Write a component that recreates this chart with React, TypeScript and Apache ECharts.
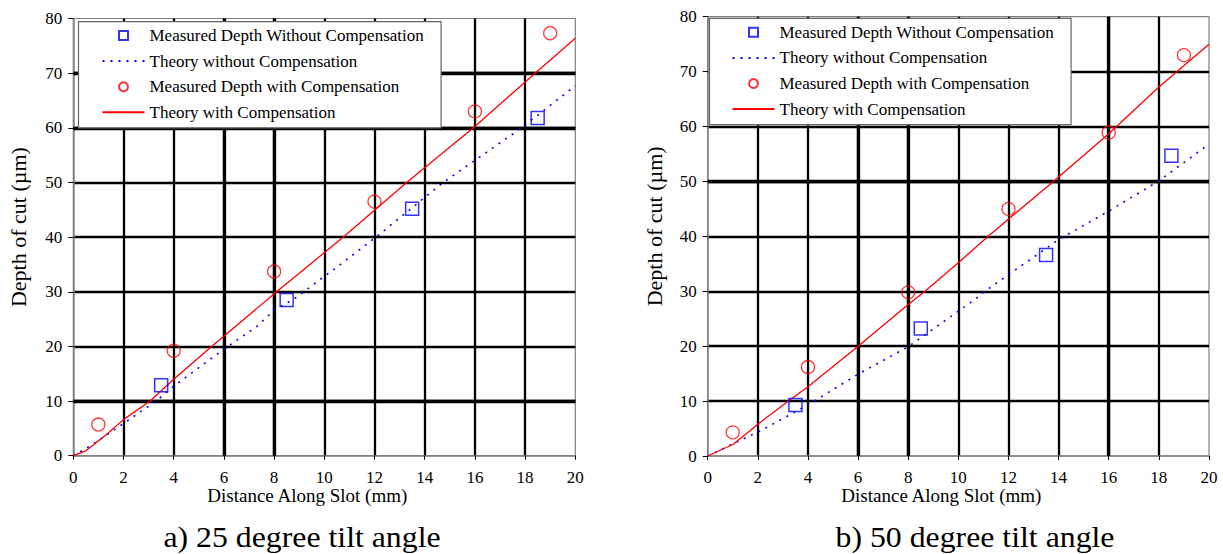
import React, { useEffect, useRef } from "react";
import * as echarts from "echarts";

// ---- Data ----
const seriesNames = [
  "Measured Depth Without Compensation",
  "Theory without Compensation",
  "Measured Depth with Compensation",
  "Theory with Compensation",
];

// a) 25 degree tilt angle
const measuredWithout25: number[][] = [[3.5, 12.9], [8.5, 28.5], [13.5, 45.2], [18.5, 61.8]];
const measuredWith25: number[][] = [[1, 5.7], [4, 19.2], [8, 33.7], [12, 46.5], [16, 63], [19, 77.3]];
const theoryWithout25: number[][] = [
  [0, 0], [0.5, 1.3], [1.5, 4.3], [2, 5.9], [3.3, 10], [4, 12.7], [6, 19.5], [7.3, 23.6],
  [8, 26.6], [8.8, 28.7], [10.5, 34.5], [12.06, 40], [14.74, 50], [17.86, 60], [20, 67.7],
];
const theoryWith25: number[][] = [
  [0, 0], [0.5, 0.9], [1.3, 3.8], [2, 6.6], [3.06, 10], [4, 14], [5.51, 20], [8.1, 30],
  [10.76, 40], [13.28, 50], [15.94, 60], [18.4, 70], [20, 76.4],
];

// b) 50 degree tilt angle
const measuredWithout50: number[][] = [[3.5, 9.3], [8.5, 23.2], [13.5, 36.6], [18.5, 54.7]];
const measuredWith50: number[][] = [[1, 4.3], [4, 16.2], [8, 29.8], [12, 45], [16, 58.9], [19, 73]];
const theoryWithout50: number[][] = [
  [0, 0], [1, 2.2], [2.15, 4.7], [4, 9.3], [6, 14.9], [8, 19.9], [8.8, 22.5], [10.66, 28.5],
  [11.06, 30], [14, 39.4], [16, 44.6], [18, 50.1], [20, 56.8],
];
const theoryWith50: number[][] = [
  [0, 0], [1, 2.1], [1.6, 4.3], [2, 5.8], [3.22, 10], [4, 12.6], [6, 20], [8, 27.6],
  [8.67, 30], [10, 35.2], [11.19, 40], [13.79, 50], [16, 58.7], [18, 67.2], [20, 75],
];

// heavier grid lines seen in the reference
const heavyX25 = [6, 8];
const heavyY25 = [10, 60, 70];
const heavyX50 = [6, 8, 16];
const heavyY50 = [50];

const xAxisTitle = "Distance Along Slot (mm)";
const yAxisTitle = "Depth of cut (µm)";
const captions = ["a) 25 degree tilt angle", "b) 50 degree tilt angle"];

const FONT = "Liberation Serif, Times New Roman, Times, serif";
const BLUE = "#0000ff";
const RED = "#ff0000";
const SQUARE_ICON = "path://M0 0H10V10H0Z";

function makeAxes(gridIndex: number, yNameGap: number) {
  const x = {
    type: "value",
    gridIndex,
    min: 0,
    max: 20,
    interval: 2,
    axisLine: { show: true, lineStyle: { color: "#808080", width: 1.5 } },
    axisTick: { show: true, length: 4, lineStyle: { color: "#000", width: 1 } },
    axisLabel: { fontFamily: FONT, fontSize: 17, color: "#000", margin: 13 },
    splitLine: { show: true, showMinLine: false, showMaxLine: false, lineStyle: { color: "#000", width: 2.3 } },
    name: xAxisTitle,
    nameLocation: "middle",
    nameGap: 30,
    nameMoveOverlap: false,
    nameTextStyle: { fontFamily: FONT, fontSize: 19, color: "#000", padding: [0, 34, 0, 0] },
  };
  const y = {
    type: "value",
    gridIndex,
    min: 0,
    max: 80,
    interval: 10,
    axisLine: { show: true, lineStyle: { color: "#808080", width: 1.5 } },
    axisTick: { show: true, length: 5, lineStyle: { color: "#000", width: 1 } },
    axisLabel: { fontFamily: FONT, fontSize: 17, color: "#000", margin: 11 },
    splitLine: { show: true, showMinLine: false, showMaxLine: false, lineStyle: { color: "#000", width: 2.3 } },
    name: yAxisTitle,
    nameLocation: "middle",
    nameGap: yNameGap,
    nameMoveOverlap: false,
    nameTextStyle: { fontFamily: FONT, fontSize: 22, color: "#000", padding: [0, 0, 0, 20] },
  };
  return { x, y };
}

function makeSeries(
  idx: number,
  measuredWithout: number[][],
  theoryWithout: number[][],
  measuredWith: number[][],
  theoryWith: number[][],
  heavyX: number[],
  heavyY: number[]
) {
  return [
    {
      name: seriesNames[0],
      type: "scatter",
      xAxisIndex: idx,
      yAxisIndex: idx,
      data: measuredWithout,
      symbol: "rect",
      symbolSize: 13,
      itemStyle: { color: "rgba(0,0,0,0)", borderColor: BLUE, borderWidth: 1.5 },
      z: 4,
    },
    {
      name: seriesNames[1],
      type: "line",
      xAxisIndex: idx,
      yAxisIndex: idx,
      data: theoryWithout,
      symbol: "none",
      lineStyle: { color: BLUE, width: 1.6, type: [2, 6] },
      itemStyle: { color: BLUE },
      z: 3,
      markLine: {
        silent: true,
        symbol: "none",
        z: 1,
        label: { show: false },
        lineStyle: { color: "#000", width: 3.3, type: "solid" },
        data: [...heavyX.map((v) => ({ xAxis: v })), ...heavyY.map((v) => ({ yAxis: v }))],
      },
    },
    {
      name: seriesNames[2],
      type: "scatter",
      xAxisIndex: idx,
      yAxisIndex: idx,
      data: measuredWith,
      symbol: "circle",
      symbolSize: 13,
      itemStyle: { color: "rgba(0,0,0,0)", borderColor: RED, borderWidth: 1.3 },
      z: 4,
    },
    {
      name: seriesNames[3],
      type: "line",
      xAxisIndex: idx,
      yAxisIndex: idx,
      data: theoryWith,
      symbol: "none",
      lineStyle: { color: RED, width: 1.3, type: "solid" },
      itemStyle: { color: RED },
      z: 3,
    },
  ];
}

function makeLegend(left: number, top: number, padding: number[]) {
  return {
    show: true,
    orient: "vertical",
    left,
    top,
    padding,
    itemWidth: 42,
    itemHeight: 9,
    itemGap: 8.6,
    selectedMode: false,
    symbolKeepAspect: true,
    backgroundColor: "#fff",
    borderColor: "#666",
    borderWidth: 1.2,
    textStyle: { fontFamily: FONT, fontSize: 17, color: "#000" },
    data: [
      { name: seriesNames[0], icon: SQUARE_ICON },
      { name: seriesNames[1], itemStyle: { opacity: 0 } },
      { name: seriesNames[2], icon: "circle" },
      { name: seriesNames[3], itemStyle: { opacity: 0 } },
    ],
  };
}

export default function App() {
  const ref = useRef<HTMLDivElement>(null);

  useEffect(() => {
    if (!ref.current) return;
    const chart = echarts.init(ref.current, undefined, { renderer: "svg" });
    const a = makeAxes(0, 44);
    const b = makeAxes(1, 42);
    const option: any = {
      animation: false,
      backgroundColor: "#fff",
      textStyle: { fontFamily: FONT },
      grid: [
        { left: 73.3, top: 18.5, width: 502, height: 437.2, show: true, borderColor: "#808080", borderWidth: 1.2, backgroundColor: "transparent", containLabel: false },
        { left: 707.7, top: 16.7, width: 501.3, height: 439.3, show: true, borderColor: "#808080", borderWidth: 1.2, backgroundColor: "transparent", containLabel: false },
      ],
      xAxis: [a.x, b.x],
      yAxis: [a.y, b.y],
      legend: [makeLegend(78.5, 21.7, [5.3, 17, 7, 23]), makeLegend(709.5, 18.3, [5.5, 17, 7, 22])],
      series: [
        ...makeSeries(0, measuredWithout25, theoryWithout25, measuredWith25, theoryWith25, heavyX25, heavyY25),
        ...makeSeries(1, measuredWithout50, theoryWithout50, measuredWith50, theoryWith50, heavyX50, heavyY50),
      ],
      graphic: [
        {
          type: "text",
          x: 302,
          y: 537,
          scaleX: 1.06,
          style: { text: captions[0], fontFamily: FONT, fontSize: 30, fill: "#000", align: "center", verticalAlign: "middle" },
        },
        {
          type: "text",
          x: 975,
          y: 537,
          scaleX: 1.06,
          style: { text: captions[1], fontFamily: FONT, fontSize: 30, fill: "#000", align: "center", verticalAlign: "middle" },
        },
      ],
    };
    chart.setOption(option);
    return () => chart.dispose();
  }, []);

  return (
    <div
      ref={ref}
      style={{ position: "absolute", left: 0, top: 0, width: 1223, height: 554, background: "#fff", fontFamily: FONT }}
    />
  );
}
